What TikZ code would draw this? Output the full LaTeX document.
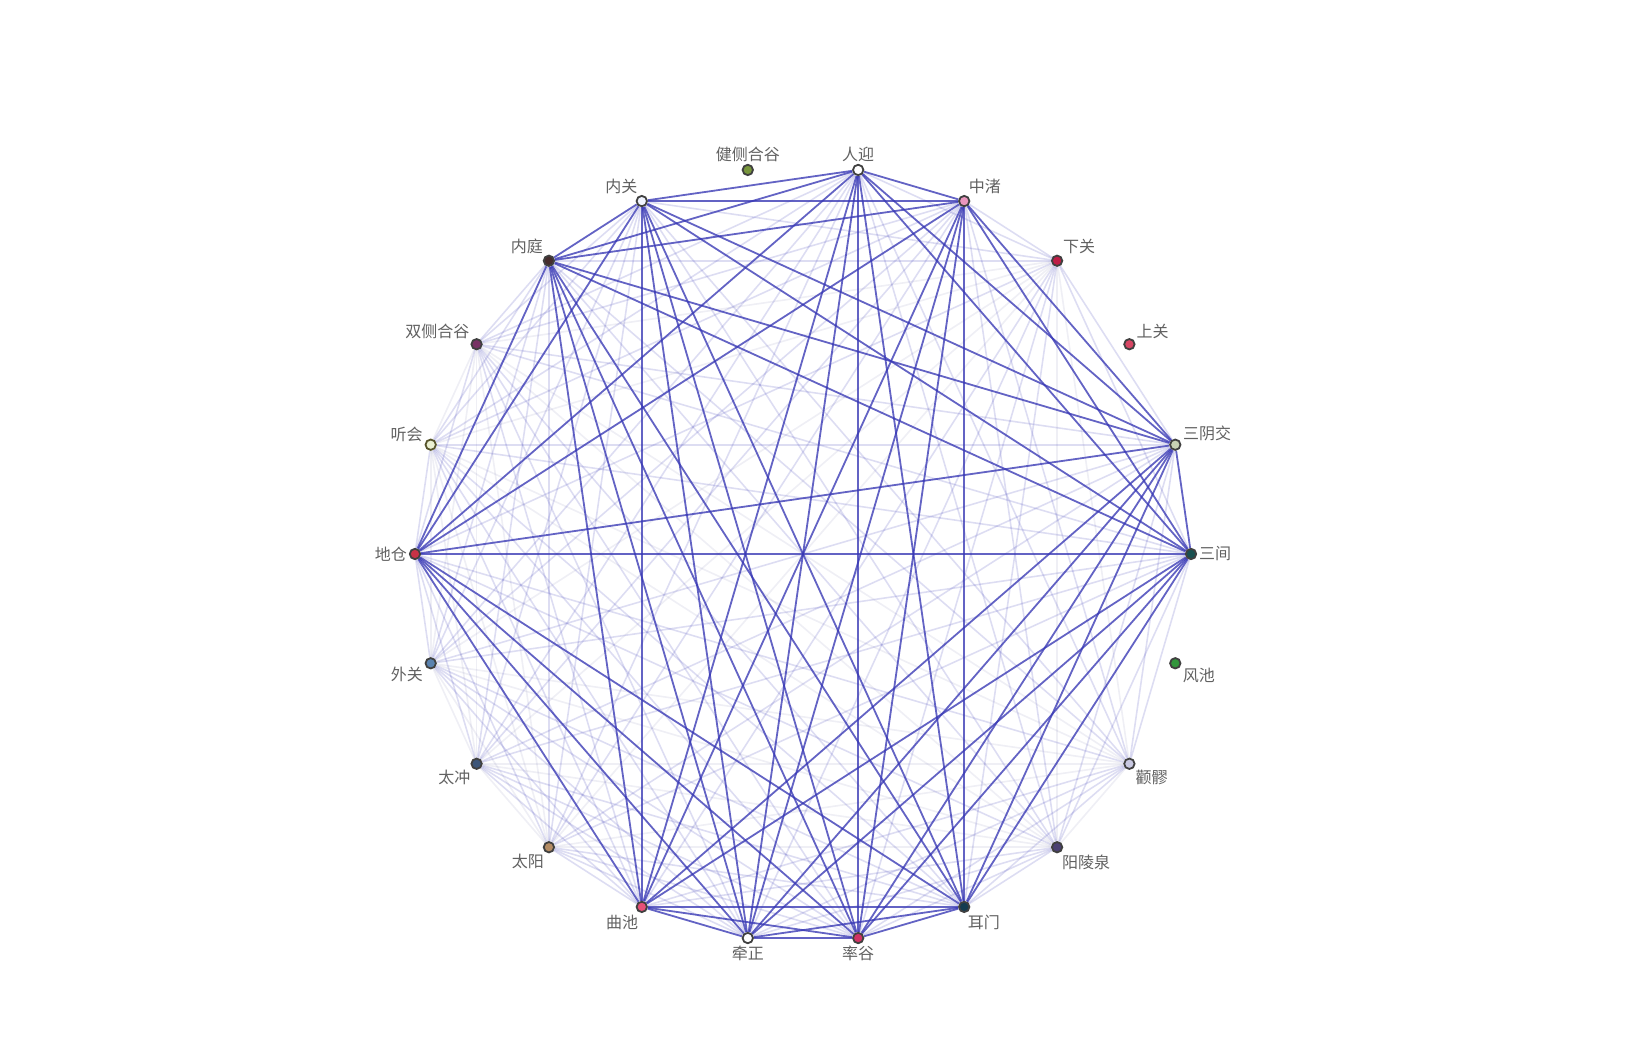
\documentclass[tikz,border=0pt]{standalone}
\usepackage{fontspec}
\newfontfamily\cjk{Noto Sans CJK SC}
\usetikzlibrary{backgrounds}

\definecolor{edgeblue}{RGB}{55,55,180}
\definecolor{edgegray}{RGB}{120,120,170}

\begin{document}
\begin{tikzpicture}[
    x=0.5pt, y=0.5pt,
    acupoint/.style = {circle, draw=black!75, line width=0.9pt, inner sep=0pt, minimum size=5.2pt},
    every label/.style = {font=\cjk\fontsize{8}{9.6}\selectfont, text=black!62, inner sep=0.8pt},
    label distance=0pt,
    strong/.style = {draw=edgeblue, draw opacity=0.78, line width=0.9pt},
    medium/.style = {draw=edgeblue, draw opacity=0.17, line width=0.8pt},
    faint/.style = {draw=edgegray, draw opacity=0.12, line width=0.8pt}]

    \useasboundingbox (-803,-499) rectangle (845,554);

    \node[acupoint, fill={rgb,255:red,25;green,80;blue,80}, label=0:三间] (sanjian) at (0:388) {};
    \node[acupoint, fill={rgb,255:red,200;green,210;blue,180}, label=16.36:三阴交] (sanyinjiao) at (16.36:388) {};
    \node[acupoint, fill={rgb,255:red,215;green,70;blue,100}, label=32.73:上关] (shangguan) at (32.73:388) {};
    \node[acupoint, fill={rgb,255:red,190;green,30;blue,70}, label=49.09:下关] (xiaguan) at (49.09:388) {};
    \node[acupoint, fill={rgb,255:red,235;green,150;blue,190}, label=65.45:中渚] (zhongzhu) at (65.45:388) {};
    \node[acupoint, fill=white, label=90:人迎] (renying) at (81.82:388) {};
    \node[acupoint, fill={rgb,255:red,120;green,150;blue,60}, label=90:健侧合谷] (jiance) at (98.18:388) {};
    \node[acupoint, fill={rgb,255:red,240;green,244;blue,255}, label=114.55:内关] (neiguan) at (114.55:388) {};
    \node[acupoint, fill={rgb,255:red,70;green,45;blue,45}, label=130.91:内庭] (neiting) at (130.91:388) {};
    \node[acupoint, fill={rgb,255:red,120;green,50;blue,100}, label=147.27:双侧合谷] (shuangce) at (147.27:388) {};
    \node[acupoint, fill={rgb,255:red,235;green,240;blue,210}, draw=olive!50!black, label=170:听会] (tinghui) at (163.64:388) {};
    \node[acupoint, fill={rgb,255:red,200;green,50;blue,70}, label=180:地仓] (dicang) at (180:388) {};
    \node[acupoint, fill={rgb,255:red,90;green,130;blue,175}, label=196.36:外关] (waiguan) at (196.36:388) {};
    \node[acupoint, fill={rgb,255:red,60;green,85;blue,120}, label=225:太冲] (taichong) at (212.73:388) {};
    \node[acupoint, fill={rgb,255:red,180;green,140;blue,100}, label=240:太阳] (taiyang) at (229.09:388) {};
    \node[acupoint, fill={rgb,255:red,230;green,80;blue,120}, label=255:曲池] (quchi) at (245.45:388) {};
    \node[acupoint, fill=white, label=270:牵正] (qianzheng) at (261.82:388) {};
    \node[acupoint, fill={rgb,255:red,210;green,50;blue,100}, label=270:率谷] (shuaigu) at (278.18:388) {};
    \node[acupoint, fill={rgb,255:red,20;green,60;blue,80}, label=285:耳门] (ermen) at (294.55:388) {};
    \node[acupoint, fill={rgb,255:red,75;green,65;blue,115}, label=300:阳陵泉] (yanglingquan) at (310.91:388) {};
    \node[acupoint, fill={rgb,255:red,200;green,200;blue,225}, label=315:颧髎] (quanliao) at (327.27:388) {};
    \node[acupoint, fill={rgb,255:red,50;green,150;blue,60}, label=335:风池] (fengchi) at (343.64:388) {};

    \begin{scope}[on background layer]
    % weak links among the outer points
    \foreach \a [count=\i] in {xiaguan,yanglingquan,quanliao,waiguan,taichong,taiyang,tinghui,shuangce}
        \foreach \b [count=\j] in {xiaguan,yanglingquan,quanliao,waiguan,taichong,taiyang,tinghui,shuangce}
            {\ifnum\i<\j \draw[faint] (\a) -- (\b); \fi}
    % outer points to the main points
    \foreach \a in {xiaguan,yanglingquan,quanliao,waiguan,taichong,taiyang,tinghui,shuangce}
        \foreach \b in {renying,zhongzhu,neiguan,neiting,sanyinjiao,sanjian,dicang,quchi,qianzheng,shuaigu,ermen}
            {\draw[medium] (\a) -- (\b);}
    % main points
    \foreach \a [count=\i] in {renying,zhongzhu,neiguan,neiting,sanyinjiao,sanjian,dicang,quchi,qianzheng,shuaigu,ermen}
        \foreach \b [count=\j] in {renying,zhongzhu,neiguan,neiting,sanyinjiao,sanjian,dicang,quchi,qianzheng,shuaigu,ermen}
            {\ifnum\i<\j \draw[strong] (\a) -- (\b); \fi}
    \end{scope}
\end{tikzpicture}
\end{document}
